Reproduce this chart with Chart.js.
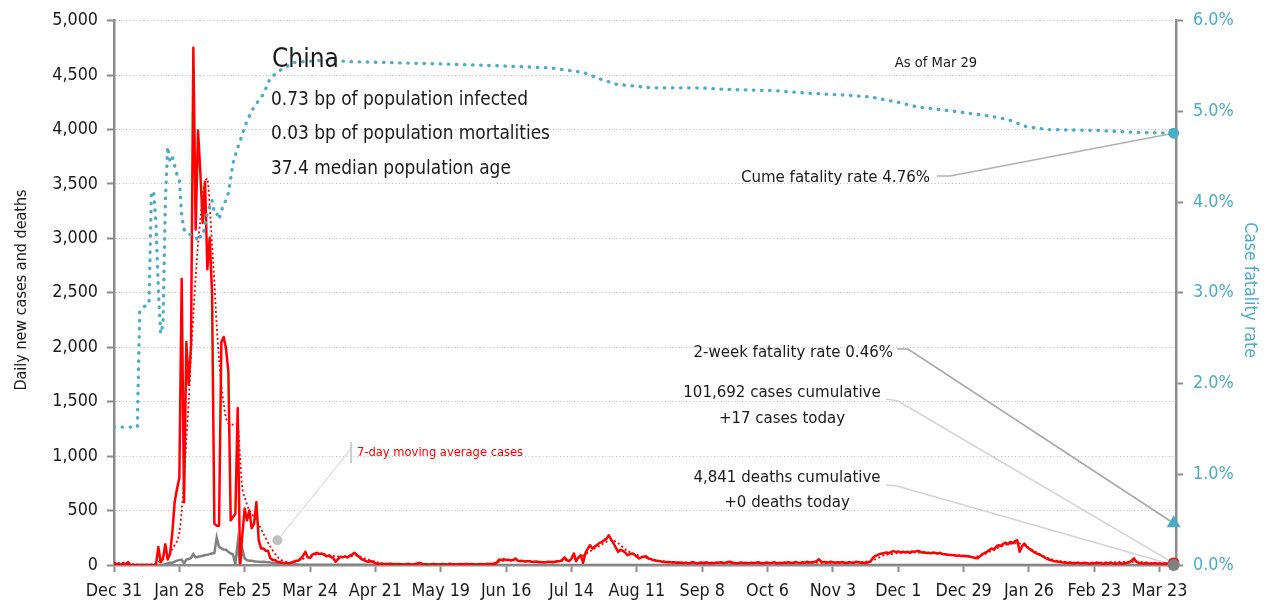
<!DOCTYPE html>
<html><head><meta charset="utf-8">
<script src="https://cdn.jsdelivr.net/npm/chart.js@4.4.1/dist/chart.umd.min.js"></script>
<style>html,body{margin:0;padding:0;background:#fff;overflow:hidden}canvas{display:block}</style>
</head><body>
<canvas id="c" width="1268" height="606" style="width:1268px;height:606px"></canvas>
<script>
// ---------- DATA (day 0 = Dec 31, 2019) ----------
const xTickLabels = ['Dec 31','Jan 28','Feb 25','Mar 24','Apr 21','May 19','Jun 16','Jul 14','Aug 11','Sep 8','Oct 6','Nov 3','Dec 1','Dec 29','Jan 26','Feb 23','Mar 23'];
const leftTicks = [0,500,1000,1500,2000,2500,3000,3500,4000,4500,5000];
const rightTicks = [0,1,2,3,4,5,6];

// daily new cases, one value per day from day 0
const dailyCases = [
27,0,15,0,20,0,28,0,0,0,
0,0,0,0,0,0,0,0,5,165,
25,60,190,50,100,300,580,700,800,2626,
577,2049,1655,2021,4751,3081,3992,3600,3142,3521,
2717,3005,2500,380,360,360,2049,2095,1988,1776,
410,440,471,1442,15,280,519,410,500,337,
380,577,228,152,152,130,130,61,45,45,
30,25,20,18,22,15,20,30,40,40,
60,85,121,70,65,95,105,112,100,105,
95,80,85,76,60,30,55,75,70,80,
70,85,95,112,95,75,55,46,35,30,
35,30,15,10,12,8,10,6,12,10,
8,5,10,7,4,6,12,8,5,10,
15,20,10,8,6,5,8,10,6,4,
8,10,5,7,12,6,8,5,10,7,
8,12,6,10,8,5,7,10,6,8,
12,8,10,10,20,50,45,55,45,48,
42,45,60,40,35,38,32,35,35,30,
28,32,25,28,22,25,30,28,25,30,
35,35,45,70,45,35,60,106,35,70,
90,20,110,150,182,150,170,185,203,210,
228,240,273,235,200,160,121,140,130,115,
90,100,106,95,75,60,70,75,80,60,
55,45,40,38,35,30,28,25,27,22,
25,20,22,20,18,22,15,20,25,18,
15,20,22,18,25,15,20,18,22,20,
25,18,22,28,30,20,18,15,20,22,
18,20,15,22,18,20,25,18,15,20,
22,18,20,25,15,20,18,22,20,25,
18,20,28,22,18,25,20,30,22,25,
28,35,52,30,25,28,22,30,25,20,
25,22,28,20,18,25,22,20,30,25,
20,22,18,25,30,60,82,90,100,106,
110,115,108,120,128,118,125,115,121,118,
121,112,125,120,128,128,115,118,110,112,
108,115,110,105,112,100,98,95,92,91,
90,85,88,82,85,80,82,75,70,65,
61,80,100,110,121,137,152,140,170,182,
175,195,205,190,212,200,220,228,121,170,
197,170,152,135,121,110,100,91,80,65,
55,46,40,35,32,30,25,22,20,18,
20,15,18,22,15,18,20,15,12,18,
15,20,18,15,12,18,15,20,15,12,
15,18,12,15,20,25,40,61,30,20,
15,12,18,15,12,15,18,12,15,10,
12,15,10,12,17
];

// 7-day moving average of cases (read at selected days)
const maDays = [0,17,20,23,25,27,28,29,30,31,32,33,34,35,36,37,38,39,40,41,42,43,44,45,46,47,48,49,50,51,52,53,54,55,56,58,61,64,67,70,73,76,80,83,86,90,95,100,104,108,112,116,130,160,165,170,175,185,195,200,205,210,213,216,220,225,230,235,245,300,320,326,330,340,350,360,368,372,376,382,387,390,395,400,405,415,437,445,454];
const maValues = [10,5,40,80,150,220,300,500,800,1150,1500,1930,2300,2650,2950,3172,3400,3520,3550,3300,2950,2600,2200,1900,1650,1480,1350,1300,1290,1290,1290,1296,1000,700,620,501,410,289,167,76,30,25,45,80,95,100,80,75,85,55,30,15,10,10,30,48,40,28,45,75,140,200,230,200,130,85,55,35,22,20,25,50,90,115,110,90,75,90,130,185,200,180,120,65,35,20,30,20,17];

// daily deaths: daily values for the first 80 days, then readings at selected days
const deathsEarly = [
0,0,0,0,0,0,0,0,0,0,
0,0,0,0,0,0,0,0,0,0,
0,3,8,15,20,20,30,40,45,50,
15,50,55,65,100,70,76,80,85,91,
95,100,106,110,252,167,152,143,140,121,
106,95,10,203,0,143,60,45,40,38,
35,31,30,28,30,27,25,22,20,18,
15,12,15,10,8,6,8,5,6,4
];
const deathsLaterDays = [90,110,150,200,300,380,454];
const deathsLaterValues = [3,2,1,1,1,1,0];

// case fatality rate (%), read at selected days
const cfrDays = [0,10,11,12,13,15,16,17,18,19,20,21,22,23,24,25,26,27,28,29,30,31,35,36,37,38,39,40,41,42,43,44,45,46,47,48,49,50,51,52,53,54,55,56,58,60,62,64,67,71,77,87,95,100,130,158,187,195,201,208,215,230,250,265,282,298,313,324,336,344,360,375,383,391,400,422,437,454];
const cfrValues = [1.52,1.52,2.79,2.82,2.85,2.88,4.10,4.12,3.75,3.04,2.55,2.65,4.00,4.61,4.45,4.50,4.40,4.30,4.25,3.85,3.70,3.66,3.62,3.57,3.62,3.62,3.75,3.88,3.95,4.02,3.88,3.88,3.81,3.90,3.98,4.02,4.10,4.26,4.43,4.52,4.60,4.67,4.75,4.83,4.95,5.05,5.12,5.19,5.37,5.45,5.54,5.56,5.56,5.55,5.53,5.51,5.48,5.45,5.43,5.36,5.30,5.26,5.26,5.24,5.23,5.20,5.18,5.16,5.10,5.05,5.00,4.95,4.91,4.83,4.80,4.79,4.77,4.76];

// latest values (Mar 29)
const lastDay = 454;
const latestCases = 17;
const latestDeaths = 0;
const cumeCfr = 4.76;
const twoWeekCfr = 0.46;
const labelAnchor = [70, 228]; // small gray dot for the moving-average label

const titleLines = ['China','0.73 bp of population infected','0.03 bp of population mortalities','37.4 median population age'];
const asOfText = 'As of Mar 29';
const cumeText = 'Cume fatality rate 4.76%';
const twoWeekText = '2-week fatality rate 0.46%';
const casesText = ['101,692 cases cumulative','+17 cases today'];
const deathsText = ['4,841 deaths cumulative','+0 deaths today'];
const maText = '7-day moving average cases';
const leftTitle = 'Daily new cases and deaths';
const rightTitle = 'Case fatality rate';

// ---------- STYLE ----------
function hasFont(name){
  const c = document.createElement('canvas').getContext('2d');
  const s = 'mmmmmmmmmmlli1234567890WwQ';
  for (const base of ['monospace','serif']) {
    c.font = '40px ' + base; const w0 = c.measureText(s).width;
    c.font = "40px '" + name + "'," + base; const w1 = c.measureText(s).width;
    if (Math.abs(w0 - w1) > 0.5) return true;
  }
  return false;
}
// font sizes tuned per available condensed family
let FAM, SZ;
if (hasFont('DejaVu Sans Condensed')) {
  FAM = "'DejaVu Sans Condensed'";
  SZ = {tick: 17.8, head: 26, line: 18.9, note: 16.7, asof: 14.6, ma: 12.8, lt: 16, rt: 17.5};
} else if (hasFont('Liberation Sans Narrow')) {
  FAM = "'Liberation Sans Narrow'";
  SZ = {tick: 20.5, head: 30.5, line: 23.8, note: 20.8, asof: 17.2, ma: 15.8, lt: 19.5, rt: 20.5};
} else {
  FAM = "'Liberation Sans', Arial";
  SZ = {tick: 16.8, head: 25, line: 19.5, note: 17, asof: 14.2, ma: 13, lt: 16, rt: 17};
}
FAM += ', sans-serif';

const BLUE = '#4bacc6', RED = '#ff0000', GRAY = '#808080', AXIS = '#8c8c8c', TEXT = '#1a1a1a';
Chart.defaults.font.family = FAM;
Chart.defaults.color = TEXT;

// ---------- BUILD ----------
const casesData = dailyCases.map((v, i) => ({x: i, y: v}));
const maData = maDays.map((d, i) => ({x: d, y: maValues[i]}));
const deathsData = deathsEarly.map((v, i) => ({x: i, y: v}))
  .concat(deathsLaterDays.map((d, i) => ({x: d, y: deathsLaterValues[i]})));
const cfrData = cfrDays.map((d, i) => ({x: d, y: cfrValues[i]}));

const annot = {
  id: 'annot',
  beforeDatasetsDraw(chart) {
    const {ctx, scales: {x, y, y2}} = chart;
    const ex = x.getPixelForValue(lastDay);
    const poly = (pts, color, w) => {
      ctx.beginPath(); ctx.strokeStyle = color; ctx.lineWidth = w;
      pts.forEach((p, i) => i ? ctx.lineTo(p[0], p[1]) : ctx.moveTo(p[0], p[1]));
      ctx.stroke();
    };
    ctx.save();
    poly([[937,176],[950,176],[ex, y2.getPixelForValue(cumeCfr)]], '#b0b0b0', 1.6);
    poly([[897,349],[908,349],[ex, y2.getPixelForValue(twoWeekCfr)]], '#a8a8a8', 1.6);
    poly([[886,399],[898,401],[ex, y.getPixelForValue(latestCases)]], '#d4d4d4', 1.6);
    poly([[886,485],[897,486],[ex, y.getPixelForValue(latestDeaths)]], '#d4d4d4', 1.6);
    const ax = x.getPixelForValue(labelAnchor[0]), ay = y.getPixelForValue(labelAnchor[1]);
    poly([[351,449],[ax, ay]], '#d0d0d0', 1);
    poly([[351,442],[351,463]], '#cfcfcf', 2);
    ctx.beginPath(); ctx.fillStyle = '#c0c0c0'; ctx.arc(ax, ay, 5, 0, Math.PI * 2); ctx.fill();
    ctx.restore();
  },
  afterDraw(chart) {
    const {ctx} = chart;
    ctx.save();
    ctx.textBaseline = 'alphabetic';
    const t = (s, x, y, size, align, color) => {
      ctx.font = size + 'px ' + FAM; ctx.textAlign = align || 'left';
      ctx.fillStyle = color || TEXT; ctx.fillText(s, x, y);
    };
    t(titleLines[0], 272, 67, SZ.head);
    t(titleLines[1], 271, 105, SZ.line);
    t(titleLines[2], 271, 139, SZ.line);
    t(titleLines[3], 271, 174, SZ.line);
    t(asOfText, 936, 67, SZ.asof, 'center');
    t(cumeText, 930, 182, SZ.note, 'right');
    t(twoWeekText, 893, 357, SZ.note, 'right');
    t(casesText[0], 782, 397, SZ.note, 'center');
    t(casesText[1], 782, 423, SZ.note, 'center');
    t(deathsText[0], 787, 482, SZ.note, 'center');
    t(deathsText[1], 787, 507, SZ.note, 'center');
    t(maText, 357, 456, SZ.ma, 'left', RED);
    // axis titles
    ctx.save();
    ctx.translate(22, 290); ctx.rotate(-Math.PI / 2);
    ctx.font = SZ.lt + 'px ' + FAM; ctx.textAlign = 'center'; ctx.textBaseline = 'middle';
    ctx.fillStyle = TEXT; ctx.fillText(leftTitle, 0, 0);
    ctx.restore();
    ctx.save();
    ctx.translate(1250, 290); ctx.rotate(Math.PI / 2);
    ctx.font = SZ.rt + 'px ' + FAM; ctx.textAlign = 'center'; ctx.textBaseline = 'middle';
    ctx.fillStyle = BLUE; ctx.fillText(rightTitle, 0, 0);
    ctx.restore();
    ctx.restore();
  }
};

new Chart(document.getElementById('c'), {
  type: 'line',
  data: {
    datasets: [
      {data: [{x: lastDay, y: latestDeaths}], yAxisID: 'y', showLine: false, pointRadius: 6, pointBackgroundColor: GRAY, pointBorderColor: GRAY, pointBorderWidth: 0, clip: false},
      {data: [{x: lastDay, y: latestCases}], yAxisID: 'y', showLine: false, pointRadius: 5, pointBackgroundColor: '#ff5050', pointBorderColor: RED, pointBorderWidth: 1.5, clip: false},
      {data: [{x: lastDay, y: twoWeekCfr}], yAxisID: 'y2', showLine: false, pointStyle: 'triangle', pointRadius: 8, pointBackgroundColor: BLUE, pointBorderColor: BLUE, pointBorderWidth: 0, clip: false},
      {data: [{x: lastDay, y: cumeCfr}], yAxisID: 'y2', showLine: false, pointRadius: 5.5, pointBackgroundColor: BLUE, pointBorderColor: BLUE, pointBorderWidth: 0, clip: false},
      {data: cfrData, yAxisID: 'y2', borderColor: BLUE, borderWidth: 3.3, borderDash: [0.5, 7.6], borderCapStyle: 'round', pointRadius: 0, tension: 0, fill: false},
      {data: casesData, yAxisID: 'y', borderColor: RED, borderWidth: 2.5, pointRadius: 0, tension: 0, fill: false, borderJoinStyle: 'round'},
      {data: maData, yAxisID: 'y', borderColor: RED, borderWidth: 1.8, borderDash: [2, 2.5], pointRadius: 0, tension: 0.3, fill: false},
      {data: deathsData, yAxisID: 'y', borderColor: GRAY, borderWidth: 2.5, pointRadius: 0, tension: 0, fill: false}
    ]
  },
  options: {
    responsive: false,
    animation: false,
    events: [],
    layout: {padding: {top: 16, left: 0, right: 0, bottom: 0}},
    plugins: {legend: {display: false}, tooltip: {enabled: false}},
    scales: {
      x: {
        type: 'linear', position: 'bottom', min: 0, max: 455,
        afterBuildTicks: s => { s.ticks = xTickLabels.map((l, i) => ({value: i * 28})); },
        ticks: {autoSkip: false, maxRotation: 0, padding: 9, font: {size: SZ.tick}, color: TEXT,
          callback: v => xTickLabels[Math.round(v / 28)]},
        grid: {drawOnChartArea: false, drawTicks: true, tickLength: 7, tickColor: AXIS, tickWidth: 2},
        border: {color: AXIS, width: 2.5},
        afterFit: s => { s.height = 41; }
      },
      y: {
        position: 'left', min: 0, max: 5000,
        afterBuildTicks: s => { s.ticks = leftTicks.map(v => ({value: v})); },
        ticks: {padding: 9, font: {size: SZ.tick}, color: TEXT, callback: v => v.toLocaleString('en-US')},
        grid: {color: '#b8b8b8', lineWidth: 1, drawTicks: true, tickLength: 7, tickColor: AXIS, tickWidth: 2, tickBorderDash: []},
        border: {color: AXIS, width: 2.5, dash: [1, 2.5]},
        afterFit: s => { s.width = 114; }
      },
      y2: {
        position: 'right', min: 0, max: 6,
        afterBuildTicks: s => { s.ticks = rightTicks.map(v => ({value: v})); },
        ticks: {padding: 10, font: {size: SZ.tick}, color: BLUE, callback: v => v.toFixed(1) + '%'},
        grid: {drawOnChartArea: false, drawTicks: true, tickLength: 7, tickColor: AXIS, tickWidth: 2},
        border: {color: AXIS, width: 2.5},
        afterFit: s => { s.width = 92; }
      }
    }
  },
  plugins: [annot]
});
</script>
</body></html>
